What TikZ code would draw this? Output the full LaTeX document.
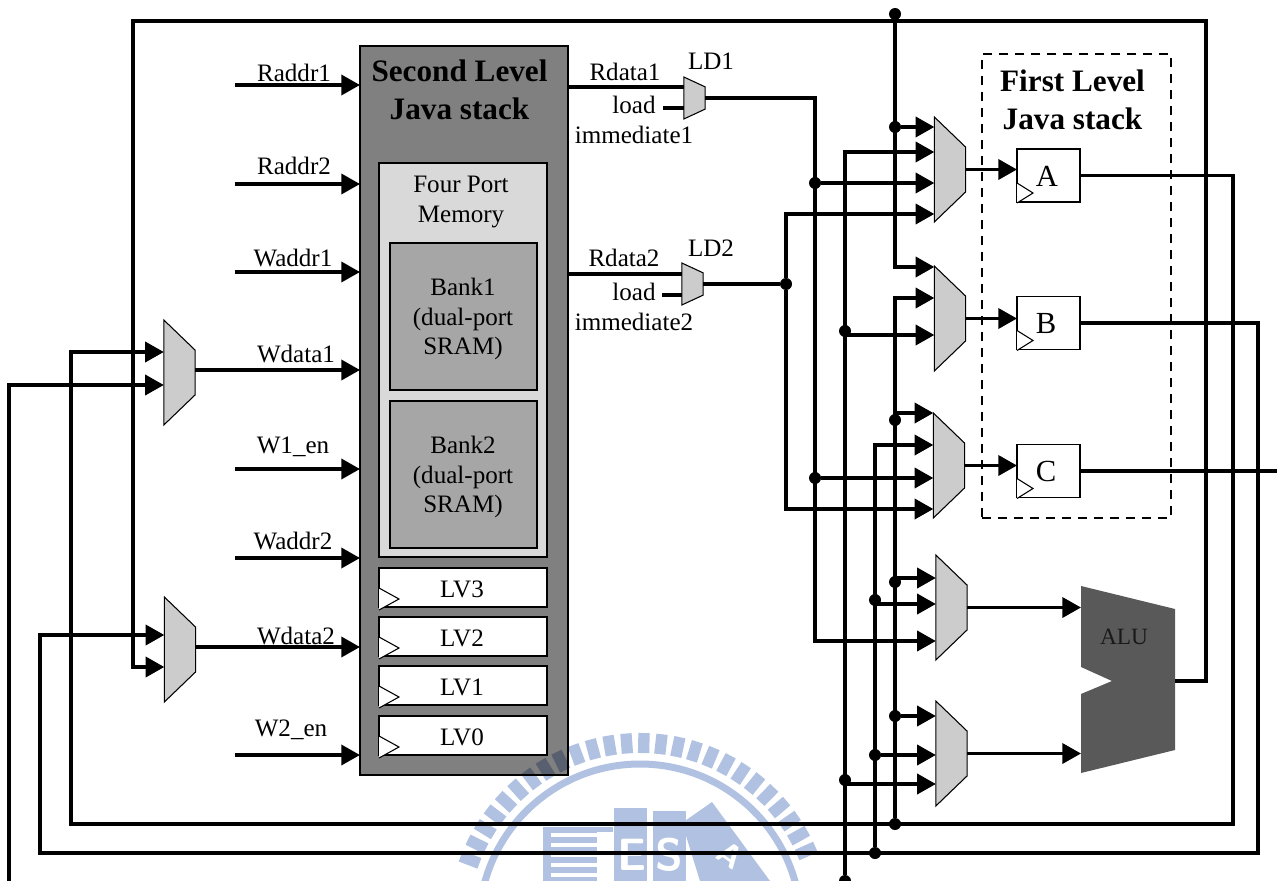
\documentclass[tikz,border=0pt]{standalone}
\usepackage{fontspec}
\setmainfont{Liberation Serif}
\usepackage{tikz}
\usetikzlibrary{arrows.meta,shapes.geometric}
\definecolor{stackgray}{HTML}{808080}
\definecolor{memgray}{HTML}{D9D9D9}
\definecolor{bankgray}{HTML}{A6A6A6}
\definecolor{muxgray}{HTML}{CCCCCC}
\definecolor{alugray}{HTML}{595959}
\definecolor{sealblue}{HTML}{B0C1E1}

\begin{document}
\begin{tikzpicture}[x=.75pt, y=-.75pt,
    every node/.style={font=\fontsize{18.8}{22}\selectfont, inner sep=0pt, outer sep=0pt, align=center},
    block/.style={rectangle, draw=black, line width=.9pt},
    mux/.style={trapezium, draw=black, fill=muxgray, line width=.8pt, inner sep=1pt, shape border rotate=270, trapezium stretches=true,
        trapezium left angle=56, trapezium right angle=56, minimum height=23.5pt, minimum width=78.75pt},
    ldmux/.style={mux, trapezium left angle=66, trapezium right angle=66, minimum height=16pt, minimum width=31.5pt},
    bus/.style={line width=2.7pt, line join=miter},
    wire/.style={bus, -{Triangle[length=14pt,width=15pt]}},
    dot/.style={circle, fill=black, minimum size=9pt},
    clk/.style={draw=black, fill=white, line width=.8pt},
    sealpart/.style={fill=sealblue, draw=none},
    sealtext/.style={text=white, font=\fontsize{34}{34}\selectfont\sffamily\bfseries},
    lvbox/.style={block, fill=white, minimum width=126pt, minimum height=29.25pt},
    bankbox/.style={block, fill=bankgray, minimum width=110.25pt, minimum height=110.25pt},
    regbox/.style={block, fill=white, minimum width=47.25pt, minimum height=39.75pt},
    regtext/.style={font=\fontsize{23}{23}\selectfont},
    title/.style={font=\fontsize{23.4}{28.5}\selectfont\bfseries}]
    \useasboundingbox (0,0) rectangle (1277,881);

    % second level stack
    \node[block, fill=stackgray, minimum width=156pt, minimum height=546.75pt] (stack) at (464,410.5) {};

    % seal behind the wires
    \begin{scope}[blend mode=multiply, shift={(640,925)}]
        \foreach \a in {24,29.4,...,160} {
            \draw[sealblue, line width=8.5pt] (-\a:172) -- (-\a:192);
        }
    \end{scope}
    \draw[sealblue, line width=5.25pt] (640,925) circle [radius=161];
    \fill[sealpart] (543,827) rectangle (597,881);
    \fill[sealpart] (597,827) rectangle (613,832);
    \foreach \y in {833,843,853,863,873} {
        \fill[white] (551,\y) rectangle (597,\y+4);
    }
    \fill[sealpart] (614,808) rectangle (647,881);
    \fill[sealpart] (653,811) rectangle (686,881);
    \fill[sealpart] (682,823) -- (712,802) -- (770,881) -- (700,881) -- cycle;
    \node[sealtext] (sealE) at (632,855) {E};
    \node[sealtext] (sealS) at (669,855) {S};
    \node[sealtext, font=\fontsize{24}{24}\selectfont\sffamily\bfseries, rotate=-35] (sealA) at (730,855) {A};

    % memory inside the stack
    \node[title] (stacktitle) at (459.5,90) {Second Level\\Java stack};
    \node[block, fill=memgray, minimum width=126pt, minimum height=295.5pt] (mem) at (463,360) {};
    \node (memtitle) at (461,202) {Four Port\\Memory};
    \node[bankbox] (bank1) at (463.5,316.5) {};
    \node[bankbox] (bank2) at (463.5,474.5) {};
    \node (bank1text) at (463,319) {Bank1\\(dual-port\\SRAM)};
    \node (bank2text) at (463,477) {Bank2\\(dual-port\\SRAM)};

    % local variables
    \node[lvbox] (lv3) at (463,587.5) {};
    \node[lvbox] (lv2) at (463,636.5) {};
    \node[lvbox] (lv1) at (463,685.5) {};
    \node[lvbox] (lv0) at (463,735.5) {};
    \node (lv3text) at (462,589.5) {LV3};
    \node (lv2text) at (462,638.5) {LV2};
    \node (lv1text) at (462,687.5) {LV1};
    \node (lv0text) at (462,737) {LV0};
    \draw[clk] (lv3.south west) ++(0,-19) -- ++(20,11) -- ++(-20,11);
    \draw[clk] (lv2.south west) ++(0,-19) -- ++(20,11) -- ++(-20,11);
    \draw[clk] (lv1.south west) ++(0,-19) -- ++(20,11) -- ++(-20,11);
    \draw[clk] (lv0.south west) ++(0,-19) -- ++(20,11) -- ++(-20,11);

    % first level stack
    \node[draw=black, line width=2.2pt, dash pattern=on 7pt off 5pt, minimum width=141.75pt, minimum height=348pt] (flbox) at (1076.5,286) {};
    \node[title] (fltitle) at (1072.5,100) {First Level\\Java stack};
    \node[regbox] (regA) at (1048.5,175.5) {};
    \node[regbox] (regB) at (1048.5,323) {};
    \node[regbox] (regC) at (1048.5,471) {};
    \node[regtext] (regAtext) at (1047,176) {A};
    \node[regtext] (regBtext) at (1046,324) {B};
    \node[regtext] (regCtext) at (1046,471) {C};
    \draw[clk] (regA.south west) ++(0,-19) -- ++(16,10) -- ++(-16,10);
    \draw[clk] (regB.south west) ++(0,-19) -- ++(16,10) -- ++(-16,10);
    \draw[clk] (regC.south west) ++(0,-19) -- ++(16,10) -- ++(-16,10);

    % muxes
    \node[mux] (muxWa) at (179.5,372.5) {};
    \node[mux] (muxWb) at (180,649.5) {};
    \node[ldmux] (ld1) at (694.5,98) {};
    \node[ldmux] (ld2) at (692.5,284) {};
    \node[mux] (muxA) at (950,169.5) {};
    \node[mux] (muxB) at (950,318.5) {};
    \node[mux] (muxC) at (949,465.5) {};
    \node[mux] (muxD) at (951.5,607.5) {};
    \node[mux] (muxE) at (951.5,753.5) {};

    % alu
    \coordinate (aluA) at (1081,607);
    \coordinate (aluB) at (1081,754);
    \coordinate (aluO) at (1175,681);
    \fill[alugray] (1081,586) -- (1175,609) -- (1175,750) -- (1081,773) -- (1081,694) -- (1112,681) -- (1081,667) -- cycle;
    \node[font=\fontsize{17.5}{20}\selectfont, text=black!90] (alutext) at (1124,637) {ALU};

    % junctions
    \node[dot] (topdot) at (895,14) {};
    \node[dot] (dA1) at (895,127) {};
    \node[dot] (dA2) at (895,420) {};
    \node[dot] (dA3) at (895,582) {};
    \node[dot] (dA4) at (895,716) {};
    \node[dot] (dA5) at (895,824) {};
    \node[dot] (dB1) at (875,600) {};
    \node[dot] (dB2) at (875,755) {};
    \node[dot] (dB3) at (875,853) {};
    \node[dot] (dC1) at (845,331) {};
    \node[dot] (dC2) at (845,780) {};
    \node[dot] (dC3) at (845,881) {};
    \node[dot] (dD1) at (815,183) {};
    \node[dot] (dD2) at (815,478) {};
    \node[dot] (dL) at (786,284) {};

    % input pins on the left
    \coordinate (pRa) at (235,85);
    \coordinate (pRb) at (235,184);
    \coordinate (pWa) at (235,272);
    \coordinate (pWen) at (235,469);
    \coordinate (pWb) at (235,558);
    \coordinate (pWfn) at (235,755);
    \coordinate (pDa) at (195,370);
    \coordinate (pDb) at (196,647);
    \draw[wire] (pRa) -- (pRa -| stack.west);
    \draw[wire] (pRb) -- (pRb -| stack.west);
    \draw[wire] (pWa) -- (pWa -| stack.west);
    \draw[wire] (pWen) -- (pWen -| stack.west);
    \draw[wire] (pWb) -- (pWb -| stack.west);
    \draw[wire] (pWfn) -- (pWfn -| stack.west);
    \draw[wire] (pDa) -- (pDa -| stack.west);
    \draw[wire] (pDb) -- (pDb -| stack.west);

    % read ports
    \coordinate (rd1) at (568,87);
    \coordinate (rd2) at (568,274);
    \coordinate (im1) at (663,108);
    \coordinate (im2) at (662,295);
    \draw[bus] (rd1) -- (rd1 -| ld1.west);
    \draw[bus] (rd2) -- (rd2 -| ld2.west);
    \draw[bus] (im1) -- (im1 -| ld1.west);
    \draw[bus] (im2) -- (im2 -| ld2.west);

    % LD1 bus
    \coordinate (d1) at (815,641);
    \draw[wire] (ld1.east) -| (d1) -- (d1 -| muxD.west);
    \draw[wire] (dD1) -- (dD1 -| muxA.west);
    \draw[wire] (dD2) -- (dD2 -| muxC.west);

    % LD2 bus
    \coordinate (l1) at (786,214);
    \coordinate (l2) at (786,509);
    \draw[bus] (ld2.east) -- (dL);
    \draw[wire] (dL) -- (l1) -- (l1 -| muxA.west);
    \draw[wire] (dL) -- (l2) -- (l2 -| muxC.west);

    % C output
    \coordinate (cOut) at (1277,471);
    \draw[bus] (regC.east) -- (cOut);
    \coordinate (c1) at (845,152);
    \coordinate (c2) at (845,335);
    \coordinate (c3) at (845,784);
    \draw[wire] (dC3) -- (c1) -- (c1 -| muxA.west);
    \draw[wire] (c2) -- (c2 -| muxB.west);
    \draw[wire] (c3) -- (c3 -| muxE.west);

    % B output
    \coordinate (bR) at (1258,853);
    \coordinate (bL) at (40,635);
    \coordinate (b1) at (875,445);
    \coordinate (b2) at (875,604);
    \draw[wire] (regB.east) -| (bR) -| (bL) -- (bL -| muxWb.west);
    \draw[wire] (dB3) -- (b1) -- (b1 -| muxC.west);
    \draw[wire] (b2) -- (b2 -| muxD.west);
    \draw[wire] (dB2) -- (dB2 -| muxE.west);

    % A output
    \coordinate (aR) at (1233,824);
    \coordinate (aL) at (71,352);
    \coordinate (a1) at (895,298);
    \coordinate (a2) at (895,413);
    \coordinate (a3) at (895,578);
    \draw[wire] (regA.east) -| (aR) -| (aL) -- (aL -| muxWa.west);
    \draw[wire] (dA5) -- (a1) -- (a1 -| muxB.west);
    \draw[wire] (a2) -- (a2 -| muxC.west);
    \draw[wire] (a3) -- (a3 -| muxD.west);
    \draw[wire] (dA4) -- (dA4 -| muxE.west);

    % top bus
    \coordinate (t1) at (895,267);
    \draw[wire] (topdot) -- (t1) -- (t1 -| muxB.west);
    \draw[wire] (dA1) -- (dA1 -| muxA.west);

    % ALU output back to the stack
    \coordinate (tR) at (1206,21);
    \coordinate (tL) at (133,667);
    \draw[wire] (aluO) -| (tR) -| (tL) -- (tL -| muxWb.west);

    % far left
    \coordinate (f0) at (9,881);
    \coordinate (f1) at (9,385);
    \draw[wire] (f0) -- (f1) -- (f1 -| muxWa.west);

    % mux outputs
    \draw[wire] (muxA.east) -- (muxA.east -| regA.west);
    \draw[wire] (muxB.east) -- (muxB.east -| regB.west);
    \draw[wire] (muxC.east) -- (muxC.east -| regC.west);
    \draw[wire] (muxD.east) -- (muxD.east -| aluA);
    \draw[wire] (muxE.east) -- (muxE.east -| aluB);

    % labels
    \node (lRa) at (294,73) {Raddr1};
    \node (lRb) at (294,166) {Raddr2};
    \node (lWa) at (293,258) {Waddr1};
    \node (lWd1) at (296,354) {Wdata1};
    \node (lWen) at (293,447) {W1\_en};
    \node (lWb) at (293,541) {Waddr2};
    \node (lWd2) at (296,636) {Wdata2};
    \node (lWfn) at (291,730) {W2\_en};
    \node (lRd1) at (625,72) {Rdata1};
    \node (lIm1) at (634,120) {load\\immediate1};
    \node (lLd1) at (711,61) {LD1};
    \node (lRd2) at (624,258) {Rdata2};
    \node (lIm2) at (634,307) {load\\immediate2};
    \node (lLd2) at (711,248) {LD2};
\end{tikzpicture}
\end{document}
